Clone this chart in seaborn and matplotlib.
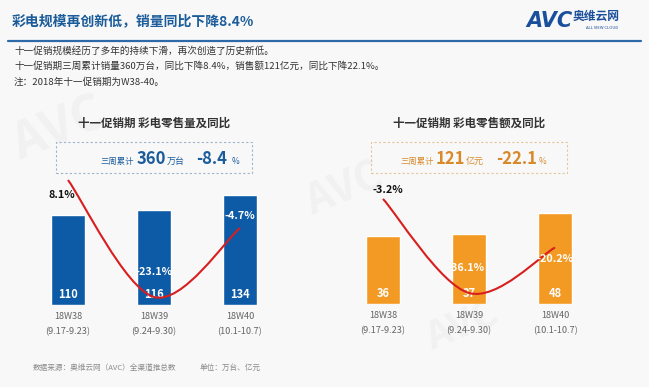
import matplotlib
matplotlib.use("Agg")
import matplotlib.pyplot as plt
from matplotlib.patches import Rectangle, PathPatch
from matplotlib.path import Path
from matplotlib.lines import Line2D
import seaborn as sns
import pandas as pd

# data
weeks = ["18W38", "18W39", "18W40"]
dates = ["(9.17-9.23)", "(9.24-9.30)", "(10.1-10.7)"]
volume = [110, 116, 134]             # 万台
volume_yoy = [8.1, -23.1, -4.7]      # %
revenue = [36, 37, 48]               # 亿元
revenue_yoy = [-3.2, -36.1, -20.2]   # %

W, H = 649, 387
BLUE = "#0d5aa7"
ORANGE = "#f39a24"
RED = "#d81e1e"
NAVY = "#1b5c9a"
GOLD = "#d8892a"

sns.set_theme(style="white")
plt.rcParams["font.family"] = ["Noto Sans CJK SC", "DejaVu Sans"]
plt.rcParams["axes.unicode_minus"] = False


def fx(x):
    return x / W


def fy(y):
    return 1 - y / H


def smooth_path(xs, ys):
    # Excel-style smoothed line (Catmull-Rom as cubic Bezier)
    pts = list(zip(xs, ys))
    n = len(pts)
    verts, codes = [pts[0]], [Path.MOVETO]
    for i in range(n - 1):
        p0 = pts[max(i - 1, 0)]
        p1 = pts[i]
        p2 = pts[i + 1]
        p3 = pts[min(i + 2, n - 1)]
        c1 = (p1[0] + (p2[0] - p0[0]) / 6, p1[1] + (p2[1] - p0[1]) / 6)
        c2 = (p2[0] - (p3[0] - p1[0]) / 6, p2[1] - (p3[1] - p1[1]) / 6)
        verts += [c1, c2, p2]
        codes += [Path.CURVE4] * 3
    return Path(verts, codes)


fig = plt.figure(figsize=(W / 100, H / 100), dpi=100, facecolor="#f8f8f8")
renderer = fig.canvas.get_renderer()

# faint watermarks
for (x, y, s, fs) in [(5, 160, "AVC", 36), (300, 215, "AVC", 30), (420, 350, "AVC", 28)]:
    fig.text(fx(x), fy(y), s, fontsize=fs, fontweight="bold", fontstyle="italic",
             color="#f1f1f1", rotation=22, zorder=-5)

# header
fig.text(fx(12), fy(21), "彩电规模再创新低，销量同比下降8.4%", fontsize=10,
         fontweight="bold", color=NAVY, va="center")
fig.text(fx(526), fy(21), "AVC", fontsize=15, fontweight="bold", fontstyle="italic",
         color="#1a4f9c", va="center", family=["DejaVu Sans"])
fig.text(fx(573), fy(16), "奥维云网", fontsize=8.5, fontweight="bold", color="#1a4f9c", va="center")
fig.text(fx(602), fy(28), "ALL VIEW CLOUD", fontsize=3, color="#1a4f9c", va="center", ha="center")
fig.add_artist(Line2D([fx(8), fx(641)], [fy(41), fy(41)], transform=fig.transFigure,
                      color="#2e6aa8", lw=1.6))

notes = ["十一促销规模经历了多年的持续下滑，再次创造了历史新低。",
         "十一促销期三周累计销量360万台，同比下降8.4%，销售额121亿元，同比下降22.1%。",
         "注：2018年十一促销期为W38-40。"]
for k, line in enumerate(notes):
    fig.text(fx(14), fy(51 + 15.5 * k), line, fontsize=6.9, color="#333333", va="center")


def panel(left_px, base_px, vals, yoy, color, ymax, yoy_lim, offsets, yoy_colors,
          title, box_ec, box_color, box_parts):
    ax = fig.add_axes([fx(left_px), fy(base_px), fx(258), (base_px - 140) / H])
    df = pd.DataFrame({"week": weeks, "value": vals})
    sns.barplot(data=df, x="week", y="value", color=color, saturation=1, width=0.4, ax=ax)
    ax.set_facecolor("none")
    ax.set_xlim(-0.5, 2.5)
    ax.set_ylim(0, ymax)
    ax.set_xticks(range(len(weeks)))
    ax.set_xticklabels([f"{w}\n{d}" for w, d in zip(weeks, dates)], linespacing=1.85,
                       fontsize=6.6, color="#666666")
    ax.tick_params(axis="x", length=0, pad=5)
    ax.set_yticks([])
    ax.set_xlabel("")
    ax.set_ylabel("")
    sns.despine(ax=ax, left=True, bottom=True)
    for i, v in enumerate(vals):
        ax.annotate(str(v), xy=(i, 0), xytext=(0, 7.5), textcoords="offset points",
                    ha="center", va="center", color="white", fontweight="bold", fontsize=8)

    ax2 = ax.twinx()
    ax2.set_ylim(*yoy_lim)
    ax2.add_patch(PathPatch(smooth_path(range(len(yoy)), yoy), fill=False,
                            edgecolor=RED, lw=1.5))
    for i, (v, off, c) in enumerate(zip(yoy, offsets, yoy_colors)):
        ax2.annotate(f"{v}%", xy=(i, v), xytext=off, textcoords="offset points",
                     ha="center", va="center", color=c, fontweight="bold", fontsize=7.8)
    ax2.axis("off")

    cx = left_px + 129
    fig.text(fx(cx), fy(123), title, fontsize=8.3, fontweight="bold", color="#333333",
             ha="center", va="center")
    fig.add_artist(Rectangle((fx(cx - 98), fy(173)), fx(196), 31 / H, transform=fig.transFigure,
                             fill=False, ec=box_ec, lw=0.8, ls=(0, (2, 2))))
    # lay the summary pieces out one after another
    x = box_parts[0][0]
    for (gap, s, fs, bold) in box_parts:
        if gap is not None and x != gap:
            x += gap
        t = fig.text(fx(x), fy(164), s, fontsize=fs, fontweight="bold" if bold else "normal",
                     color=box_color, va="baseline")
        x += t.get_window_extent(renderer).width


panel(25, 305, volume, volume_yoy, BLUE, 165 / 0.82, (-25.23, 18.77),
      [(-4.5, -10.5), (0, 18), (0, 8.6)], ["#111111", "white", "white"],
      "十一促销期 彩电零售量及同比", "#9fb3c8", NAVY,
      [(100, "三周累计", 6, False), (3, "360", 12, True), (1, "万台", 6.5, False),
       (11, "-8.4", 12, True), (5, "%", 6, False)])

panel(340, 304, revenue, revenue_yoy, ORANGE, 164 / 1.895, (-39.95, 17.4),
      [(3.5, 6.5), (-2, 18), (0, -8)], ["#111111", "white", "white"],
      "十一促销期 彩电零售额及同比", "#e3c79a", GOLD,
      [(400, "三周累计", 6, False), (2, "121", 12, True), (1, "亿元", 6.5, False),
       (12, "-22.1", 12, True), (2, "%", 6, False)])

fig.text(fx(33), fy(368), "数据来源：奥维云网（AVC）全渠道推总数", fontsize=5.5, color="#8a8a8a", va="center")
fig.text(fx(200), fy(368), "单位：万台、亿元", fontsize=5.5, color="#8a8a8a", va="center")

fig.savefig("out.png", dpi=100, facecolor=fig.get_facecolor())
